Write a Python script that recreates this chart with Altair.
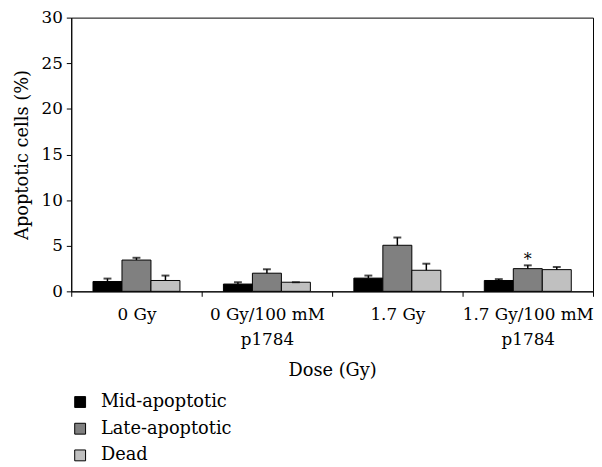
import altair as alt
import pandas as pd

doses = ["0 Gy", "0 Gy/100 mM|p1784", "1.7 Gy", "1.7 Gy/100 mM|p1784"]
series = ["Mid-apoptotic", "Late-apoptotic", "Dead"]
colors = ["#000000", "#808080", "#c0c0c0"]

mid = [1.08, 0.80, 1.45, 1.19]
mid_sd = [0.32, 0.20, 0.28, 0.15]
late = [3.43, 1.99, 5.05, 2.49]
late_sd = [0.25, 0.43, 0.85, 0.36]
dead = [1.19, 1.00, 2.31, 2.38]
dead_sd = [0.54, 0.00, 0.72, 0.29]

star_dose = ["1.7 Gy/100 mM|p1784"]
star_series = ["Late-apoptotic"]
star_y = [3.9]

rows = []
for s, vals, sds in zip(series, [mid, late, dead], [mid_sd, late_sd, dead_sd]):
    for d, v, e in zip(doses, vals, sds):
        rows.append({"dose": d, "series": s, "value": v, "top": v + e})
df = pd.DataFrame(rows)
star_df = pd.DataFrame({"dose": star_dose, "series": star_series, "y": star_y, "t": ["*"]})

FONT = "DejaVu Serif"

x = alt.X(
    "dose:N",
    sort=doses,
    scale=alt.Scale(paddingInner=0, paddingOuter=0),
    axis=alt.Axis(
        title="Dose (Gy)",
        labelAngle=0,
        labelExpr="split(datum.label, '|')",
        tickBand="extent",
        tickSize=5,
        labelPadding=10,
        labelLineHeight=26,
        titleBaseline="alphabetic",
        titleY=85,
    ),
)
xo = alt.XOffset("series:N", sort=series, scale=alt.Scale(paddingInner=0, paddingOuter=0.75))
y = alt.Y(
    "value:Q",
    scale=alt.Scale(domain=[0, 30], nice=False),
    axis=alt.Axis(
        title="Apoptotic cells (%)",
        values=[0, 5, 10, 15, 20, 25, 30],
        tickSize=5,
        labelPadding=4,
        grid=False,
        titleX=-44,
        titleBaseline="alphabetic",
    ),
)

bars = alt.Chart(df).mark_bar(stroke="black", strokeWidth=1).encode(
    x=x,
    xOffset=xo,
    y=y,
    color=alt.Color(
        "series:N",
        sort=series,
        scale=alt.Scale(domain=series, range=colors),
        legend=alt.Legend(
            title=None,
            orient="none",
            legendX=0,
            legendY=380,
            padding=0,
            symbolType="square",
            symbolSize=121,
            symbolStrokeColor="black",
            symbolStrokeWidth=1,
            symbolOpacity=1,
            labelFontSize=18,
            labelOffset=12,
            rowPadding=9,
        ),
    ),
)

err = alt.Chart(df).mark_rule(color="black", strokeWidth=1.5).encode(
    x=x, xOffset=xo, y="value:Q", y2="top:Q"
)
caps = alt.Chart(df).mark_tick(color="black", thickness=2, size=8).encode(
    x=x, xOffset=xo, y="top:Q"
)
star = alt.Chart(star_df).mark_text(fontSize=16, font=FONT, baseline="middle", dy=4).encode(
    x=x, xOffset=xo, y="y:Q", text="t:N"
)

chart = (
    alt.layer(bars, err, caps, star)
    .properties(
        width=528,
        height=277,
        autosize=alt.AutoSizeParams(type="none"),
        padding={"left": 64, "top": 7, "right": 1, "bottom": 174},
    )
    .configure(font=FONT)
    .configure_view(stroke="black", strokeWidth=1)
    .configure_axis(
        domainColor="black",
        tickColor="black",
        labelColor="black",
        titleColor="black",
        labelFont=FONT,
        titleFont=FONT,
        labelFontSize=17,
        titleFontSize=18,
        titleFontWeight="normal",
    )
    .configure_legend(labelFont=FONT, labelColor="black")
)

chart.save("out.html", embed_options={"renderer": "svg", "actions": False})
